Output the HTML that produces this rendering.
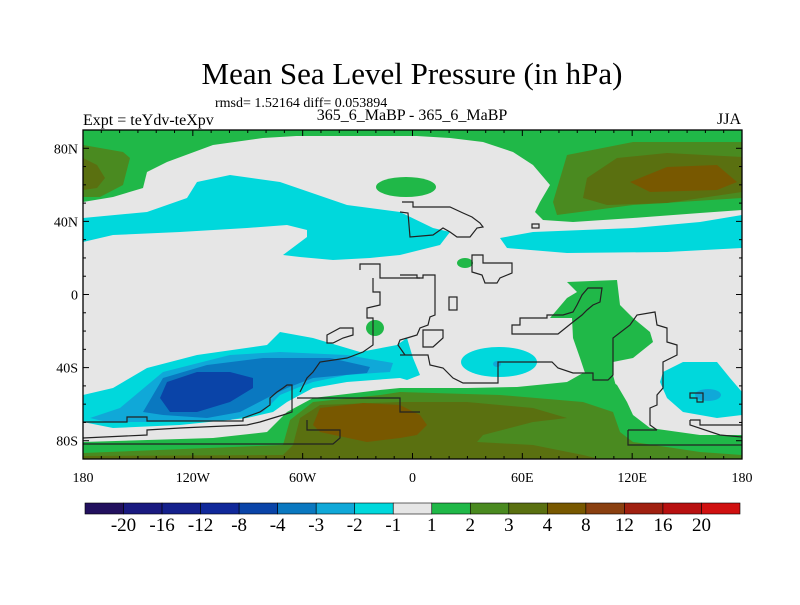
<!DOCTYPE html>
<html><head><meta charset="utf-8"><style>
body{margin:0;background:#fff;}
svg text{font-family:"Liberation Serif",serif;fill:#000;}
</style></head><body>
<svg id="chart" width="800" height="600" viewBox="0 0 800 600" xmlns="http://www.w3.org/2000/svg">
<text x="412" y="84" font-size="31" text-anchor="middle">Mean Sea Level Pressure (in hPa)</text>
<text x="215" y="107" font-size="14">rmsd= 1.52164 diff= 0.053894</text>
<text x="83" y="125" font-size="16">Expt = teYdv-teXpv</text>
<text x="412" y="120" font-size="16" text-anchor="middle">365_6_MaBP - 365_6_MaBP</text>
<text x="741" y="124" font-size="16" text-anchor="end">JJA</text>
<defs><clipPath id="pc"><rect x="83" y="130" width="659" height="329"/></clipPath></defs>
<g id="map" clip-path="url(#pc)">
<rect x="83" y="130" width="659" height="329" fill="#e6e6e6"/>
<path fill="#20b848" d="M83,130 L742,130 L742,210 L700,213 L633,218 L573,222 L543,220 L535,212 L540,202 L550,185 L533,165 L513,152 L483,142 L450,138 L400,135 L313,135 L263,138 L213,145 L167,162 L147,172 L143,188 L113,197 L83,202 Z"/>
<path fill="#20b848" d="M83,130 L742,130 L742,136 L83,136Z"/>
<path fill="#4a8a20" d="M83,145 L123,152 L130,158 L123,185 L100,197 L83,197Z"/>
<path fill="#5a7010" d="M83,158 L97,165 L105,178 L97,188 L83,190Z"/>
<path fill="#4a8a20" d="M567,155 L633,142 L742,142 L742,198 L633,205 L557,215 L553,202Z"/>
<path fill="#5a7010" d="M587,178 L617,158 L667,153 L742,157 L742,192 L667,203 L607,205 L583,198Z"/>
<path fill="#785800" d="M630,182 L667,167 L717,165 L737,182 L717,190 L650,192Z"/>
<path fill="#00d8dc" d="M83,218 L147,212 L187,198 L197,182 L230,175 L280,182 L347,205 L400,212 L433,228 L450,232 L440,245 L400,255 L370,258 L333,260 L300,257 L283,255 L307,237 L307,230 L287,225 L247,228 L180,232 L113,235 L83,242Z"/>
<path fill="#00d8dc" d="M500,238 L533,232 L633,228 L700,222 L742,215 L742,248 L667,252 L567,253 L507,248 Z"/>
<ellipse cx="406" cy="187" rx="30" ry="10" fill="#20b848"/>
<ellipse cx="465" cy="263" rx="8" ry="5" fill="#20b848"/>
<ellipse cx="375" cy="328" rx="9" ry="8" fill="#20b848"/>
<path fill="#00d8dc" d="M83,395 L113,388 L147,368 L197,355 L267,345 L280,332 L313,338 L360,352 L397,345 L407,338 L413,358 L420,375 L407,380 L400,378 L347,382 L313,388 L287,402 L273,412 L247,418 L180,425 L113,428 L83,422Z"/>
<path fill="#10a8d8" d="M90,418 L120,408 L163,372 L230,355 L280,352 L347,355 L393,363 L390,372 L347,375 L313,382 L297,388 L280,395 L263,412 L230,420 L147,422 L107,422Z"/>
<path fill="#0a78c0" d="M143,412 L163,378 L207,365 L263,358 L330,358 L370,367 L367,373 L313,378 L287,388 L267,398 L240,412 L207,418 L163,415Z"/>
<path fill="#0a44a8" d="M160,398 L167,382 L197,372 L230,372 L253,378 L253,388 L230,402 L197,412 L170,412Z"/>
<path fill="#20b848" d="M83,442 L213,438 L267,432 L287,412 L313,398 L380,390 L400,388 L467,388 L517,387 L567,382 L583,373 L593,375 L607,378 L617,385 L627,402 L633,415 L650,428 L700,435 L742,435 L742,459 L83,459Z"/>
<path fill="#20b848" d="M567,282 L617,280 L620,305 L633,318 L650,332 L653,342 L633,358 L613,362 L613,375 L617,390 L580,390 L585,373 L580,358 L573,338 L572,318 L550,318 L567,298 L577,292Z"/>
<path fill="#4a8a20" d="M83,453 L283,445 L290,420 L313,402 L380,395 L400,392 L500,395 L583,402 L613,412 L620,432 L633,442 L700,452 L742,455 L742,459 L83,459Z"/>
<path fill="#5a7010" d="M293,445 L300,418 L320,405 L400,402 L467,402 L533,408 L567,418 L533,422 L483,435 L477,442 L533,445 L583,455 L600,459 L83,459 L83,456 L283,455Z"/>
<path fill="#785800" d="M313,425 L320,408 L363,403 L400,405 L420,415 L427,425 L417,435 L400,438 L367,442 L320,432Z"/>
<path fill="#00d8dc" d="M663,372 L683,362 L717,362 L730,378 L742,392 L742,415 L717,418 L683,412 L667,398 L660,382Z"/>
<ellipse cx="708" cy="395" rx="13" ry="6" fill="#10a8d8"/>
<ellipse cx="499" cy="362" rx="38" ry="15" fill="#00d8dc"/>
<ellipse cx="497" cy="364" rx="4" ry="3" fill="#10a8d8"/>
<g fill="none" stroke="#222" stroke-width="1.2">
<polyline points="83,422 127,422 127,417 147,417 147,421 243,421 243,418 260,412 270,405 270,398 277,392 283,388 287,385 292,385 292,412 283,415 273,418 260,422 247,425 180,428 147,430 147,435 83,438"/>
<polyline points="83,444 333,444 340,438 340,430 307,430 307,420"/>
<polyline points="297,398 400,398 400,412 420,412"/>
<polyline points="628,430 628,445 742,445"/>
<polyline points="628,430 657,430"/>
<polyline points="360,270 360,264 380,264 380,278 420,278"/>
<polyline points="373,278 373,292 380,292 380,305 367,308 367,318 373,318 373,345 363,352 347,358 320,362 313,372 307,378 300,392"/>
<polyline points="400,275 417,275 417,278 423,278 423,275 435,275 435,315 430,317 428,325 420,328 417,335 407,338 400,340 398,345 405,355"/>
<polygon points="423,330 443,330 443,338 433,347 423,347"/>
<polyline points="400,355 428,355 430,365 443,368 453,378 463,383 498,383 498,362 552,362 558,368 573,373 593,373 593,380 608,380 613,375 613,338 630,325 637,315 655,312 657,325 667,328 667,342 677,345 677,355 663,362 663,388 657,395 657,405 650,408 650,425 657,430"/>
<polygon points="512,325 512,334 558,334 573,322 582,315 587,310 593,305 600,302 602,288 588,288 582,295 577,305 573,312 563,315 547,315 547,318 520,318 520,325"/>
<polyline points="402,202 413,202 413,207 450,207 463,213 472,217 480,223 483,227 477,228 470,237 457,237 450,232 443,228 433,235 410,237 408,213 400,212"/>
<polygon points="472,255 483,255 483,263 512,263 512,273 500,278 497,283 485,283 482,275 472,272"/>
<rect x="449" y="297" width="8" height="13"/>
<rect x="532" y="224" width="7" height="4"/>
<polygon points="327,335 340,328 353,328 353,335 343,338 333,343 327,343"/>
<polyline points="690,420 700,420 700,425 742,425"/>
<polyline points="690,420 690,425 720,435 742,437"/>
<polygon points="690,393 703,393 703,402 697,402 697,398 690,398"/>
</g>
</g>
<rect x="83" y="130" width="659" height="329" fill="none" stroke="#000" stroke-width="1.3"/>
<g id="ticks" stroke="#000" stroke-width="1"></g>
<g id="labels" font-size="14"></g>
<g id="cbar"></g>
</svg>
<script>
const lonTicks = [-180,-120,-60,0,60,120,180];
const lonLabels = ["180","120W","60W","0","60E","120E","180"];
const latTicks = [80,40,0,-40,-80];
const latLabels = ["80N","40N","0","40S","80S"];
const cbColors = ["#22105e","#1a1a80","#14208c","#10289a","#0a44a8","#0a78c0","#10a8d8","#00d8dc","#e6e6e6","#20b848","#4a8a20","#5a7010","#785800","#8a4010","#a02010","#b81010","#d01010"];
const cbLabels = ["-20","-16","-12","-8","-4","-3","-2","-1","1","2","3","4","8","12","16","20"];

const NS='http://www.w3.org/2000/svg';
const X0=83,X1=742,Y0=130,Y1=459;
function xs(lon){return X0+(lon+180)*(X1-X0)/360;}
function ys(lat){return Y0+(90-lat)*(Y1-Y0)/180;}
function mk(tag,attrs,parent){const e=document.createElementNS(NS,tag);for(const k in attrs)e.setAttribute(k,attrs[k]);parent.appendChild(e);return e;}
const tg=document.getElementById('ticks'), lg=document.getElementById('labels'), cb=document.getElementById('cbar');
for(let lon=-180;lon<=180;lon+=10){
  const major=lon%60===0, L=major?6:3;
  let t=mk('line',{x1:xs(lon),x2:xs(lon),y1:Y1,y2:Y1-L},tg);
  
  
  t=mk('line',{x1:xs(lon),x2:xs(lon),y1:Y0,y2:Y0+L},tg);
  
  
}
for(let lat=-90;lat<=90;lat+=10){
  const major=lat%40===0, L=major?6:3;
  let t=mk('line',{x1:X0,x2:X0+L,y1:ys(lat),y2:ys(lat)},tg);
  
  
  t=mk('line',{x1:X1,x2:X1-L,y1:ys(lat),y2:ys(lat)},tg);
  
  
}
lonTicks.forEach((v,i)=>{
  const t=mk('text',{x:xs(v),y:482,'text-anchor':'middle'},lg);t.textContent=lonLabels[i];
  
  
});
latTicks.forEach((v,i)=>{
  const t=mk('text',{x:78,y:ys(v)+5,'text-anchor':'end'},lg);t.textContent=latLabels[i];
  
  
});
const CB0=85,CB1=740,CBY=503,CBH=11,bw=(CB1-CB0)/cbColors.length;
cbColors.forEach((c,i)=>{
  const r=mk('rect',{x:CB0+i*bw,y:CBY,width:bw,height:CBH,fill:c,stroke:'#000','stroke-width':0.6},cb);
  
  
});
cbLabels.forEach((s,i)=>{
  const t=mk('text',{x:CB0+(i+1)*bw,y:531,'text-anchor':'middle','font-size':19},cb);t.textContent=s;
  
  
});
</script>
</body></html>
